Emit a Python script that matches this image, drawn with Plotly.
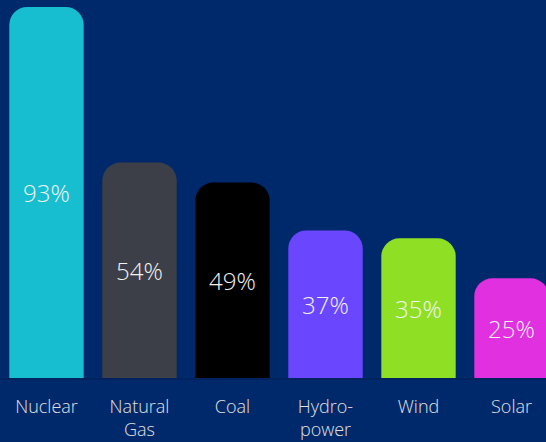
import plotly.graph_objects as go

categories = ["Nuclear", "Natural<br>Gas", "Coal", "Hydro-<br>power", "Wind", "Solar"]
values = [93, 54, 49, 37, 35, 25]
labels = ["93%", "54%", "49%", "37%", "35%", "25%"]
colors = ["#17bed0", "#3c3f47", "#000000", "#6a47ff", "#8fdf25", "#e030e0"]

BG = "#00296b"

fig = go.Figure(go.Bar(
    x=categories,
    y=values,
    text=labels,
    textposition="inside",
    insidetextanchor="middle",
    textangle=0,
    textfont=dict(family="Open Sans", size=24, color="#f2f2f2", weight=300),
    marker=dict(color=colors, cornerradius=18, line=dict(width=0)),
    hoverinfo="skip",
))

fig.update_layout(
    width=546, height=442,
    margin=dict(l=0, r=0, t=0, b=64),
    paper_bgcolor=BG, plot_bgcolor=BG,
    bargap=0.2,
    showlegend=False,
    font=dict(family="Open Sans", color="#e6e6e6"),
)
fig.update_xaxes(
    range=[-0.5, 5.371],
    automargin=False,
    showgrid=False, zeroline=False,
    showline=True, linecolor="rgba(0,20,60,0.25)", linewidth=2,
    ticks="outside", ticklen=11, tickcolor="rgba(0,0,0,0)",
    tickfont=dict(family="Open Sans", size=18, color="#e0e0e0", weight=300),
)
fig.update_yaxes(
    range=[0, 94.75],
    automargin=False,
    visible=False, showgrid=False, zeroline=False,
)

fig.write_html("out.html")
